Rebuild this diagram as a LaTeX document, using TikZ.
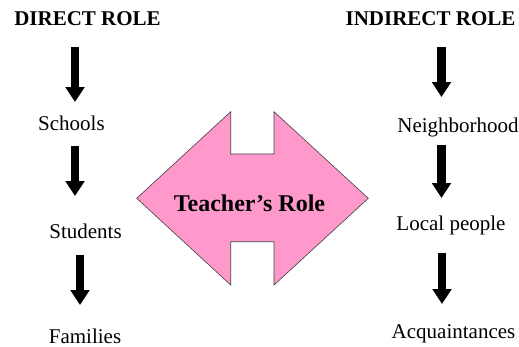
\documentclass[tikz,border=0pt]{standalone}
\usepackage{fontspec}
\setmainfont{Liberation Serif}
\usepackage{xcolor}
\usetikzlibrary{arrows.meta}

\definecolor{rolepink}{HTML}{FF99CC}

\tikzset{
    heading/.style={font=\fontsize{21}{24}\selectfont\bfseries, anchor=base, inner sep=0pt},
    item/.style={font=\fontsize{21}{24}\selectfont, anchor=base, inner sep=0pt},
    downarrow/.style={line width=8.5pt, -{Triangle[width=18.5pt, length=15pt]}}
}

\begin{document}
\begin{tikzpicture}[x=1pt, y=-1pt]

    \useasboundingbox (0,0) rectangle (519,346);

    % Headings
    \node[heading] (direct) at (87.5,25) {DIRECT ROLE};
    \node[heading] (indirect) at (430.5,25) {INDIRECT ROLE};

    % Left column
    \node[item] (schools) at (71.5,130) {Schools};
    \node[item] (students) at (85.5,238) {Students};
    \node[item] (families) at (85,343) {Families};

    % Right column
    \node[item] (hood) at (458,132) {Neighborhood};
    \node[item] (locals) at (451,230) {Local people};
    \node[item] (friends) at (453.5,338) {Acquaintances};

    % Arrows down each column
    \foreach \n/\x/\a/\b in {l1/75/47/102, l2/75/146/196, l3/80/255/305,
                             r1/441.5/47/97, r2/441.5/145/198, r3/442/253/304} {
        \coordinate (\n top) at (\x,\a);
        \coordinate (\n tip) at (\x,\b);
        \draw[downarrow] (\n top) -- (\n tip);
    }

    % Double arrow in the middle
    \draw[fill=rolepink, draw=black!75, line width=0.6pt]
        (136.7,198.3) -- (230.7,111.7) -- (230.7,154) -- (274,154) -- (274,111.7)
        -- (368.3,198.3) -- (274,285) -- (274,241.7) -- (230.7,241.7) -- (230.7,285) -- cycle;
    \node[font=\fontsize{24}{28}\selectfont\bfseries] (role) at (249.5,203) {Teacher's Role};

\end{tikzpicture}
\end{document}
